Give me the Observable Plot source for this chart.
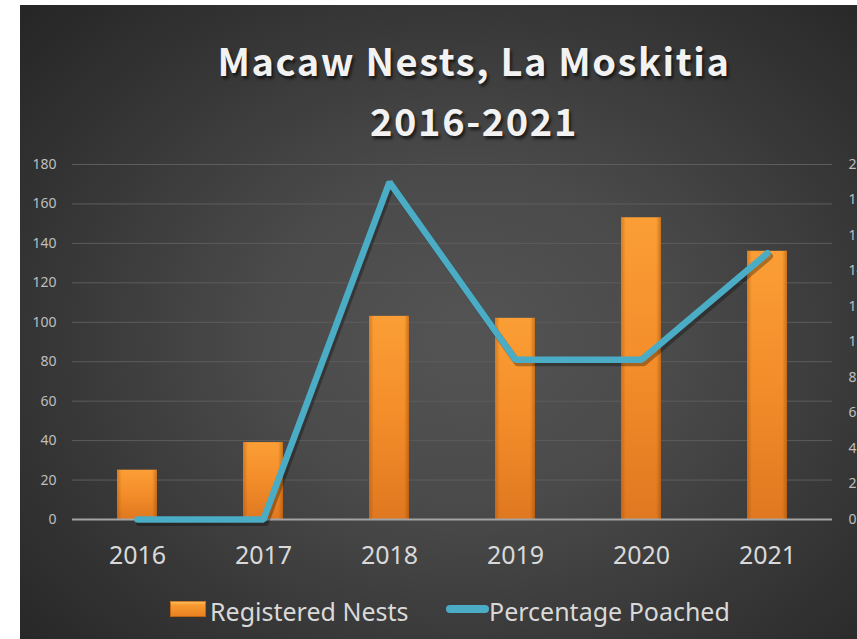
<!DOCTYPE html>
<html>
<head>
<meta charset="utf-8">
<script src="https://cdn.jsdelivr.net/npm/d3@7"></script>
<script src="https://cdn.jsdelivr.net/npm/@observablehq/plot@0.6"></script>
<style>
  html, body { margin: 0; padding: 0; background: #fff; overflow: hidden; width: 857px; height: 639px; }
  #card {
    position: absolute; left: 20px; top: 5px; width: 860px; height: 640px;
    background: radial-gradient(ellipse 70% 75% at 52% 52%, #545454 0%, #4a4a4a 35%, #363636 70%, #262626 100%);
    overflow: hidden;
    font-family: "Noto Sans", sans-serif;
  }
  .title {
    position: absolute; left: 0; width: 908px; text-align: center;
    font-family: "Noto Sans CJK JP", "Noto Sans", sans-serif; font-weight: 700;
    font-size: 38px; letter-spacing: 1.6px; color: #f2f2f2;
    text-shadow: 2px 3px 3px rgba(0,0,0,0.6);
    line-height: 1;
  }
  #chart { position: absolute; left: 0; top: 0; }
  .leg { position: absolute; top: 589px; font-size: 25px; color: #d9d9d9; line-height: 34px; }
  .sw-bar { position: absolute; width: 36px; height: 16px; top: 596px;
    background: linear-gradient(to bottom, #ffc46a 0%, #f89a30 25%, #e87f20 100%);
    box-shadow: inset 0 0 0 1px rgba(160,80,10,0.6); }
  .sw-line { position: absolute; width: 43px; height: 8px; top: 600px; border-radius: 4px; background: #4bacc6; }
</style>
</head>
<body>
<div id="card">
  <div class="title" id="t1" style="top: 36px;">Macaw Nests, La Moskitia</div>
  <div class="title" id="t2" style="top: 96px;">2016-2021</div>
  <div id="chart"></div>
  <div class="sw-bar" style="left: 150px;"></div>
  <div class="leg" style="left: 190px;">Registered Nests</div>
  <div class="sw-line" style="left: 426px;"></div>
  <div class="leg" style="left: 469px;">Percentage Poached</div>
</div>
<script>
const years = ["2016", "2017", "2018", "2019", "2020", "2021"];
const registeredNests = [25, 39, 103, 102, 153, 136];
const percentagePoached = [0, 0, 19, 9, 9, 15];
const leftTicks = [0, 20, 40, 60, 80, 100, 120, 140, 160, 180];
const rightTicks = [0, 2, 4, 6, 8, 10, 12, 14, 16, 18, 20];

const leftMax = 180, rightMax = 20;
const ratio = leftMax / rightMax; // secondary axis mapped onto primary
const data = years.map((y, i) => ({year: y, nests: registeredNests[i], pct: percentagePoached[i]}));

const inset = 43;
const svg = Plot.plot({
  width: 852,
  height: 575,
  marginLeft: 52,
  marginRight: 40,
  marginTop: 159,
  marginBottom: 61,
  style: {background: "transparent", fontFamily: "Noto Sans, sans-serif", overflow: "visible"},
  x: {domain: years, padding: 0},
  y: {domain: [0, leftMax]},
  marks: [
    Plot.ruleY(leftTicks, {stroke: "#5d5d5d", strokeWidth: 1}),
    Plot.barY(data, {x: "year", y: "nests", fill: "url(#barV)", insetLeft: inset, insetRight: inset}),
    Plot.barY(data, {x: "year", y: "nests", fill: "url(#barH)", insetLeft: inset, insetRight: inset}),
    Plot.tickY(data, {x: "year", y: "nests", stroke: "url(#barTop)", strokeWidth: 6, dy: 3, insetLeft: inset + 2, insetRight: inset + 2}),
    Plot.ruleY([0], {stroke: "#a3a3a3", strokeWidth: 2}),
    Plot.line(data, {x: "year", y: d => d.pct * ratio, stroke: "#000", strokeOpacity: 0.3, strokeWidth: 7, dx: 2, dy: 3}),
    Plot.line(data, {x: "year", y: d => d.pct * ratio, stroke: "#4bacc6", strokeWidth: 6.5, strokeLinejoin: "miter"}),
    Plot.axisY(leftTicks, {anchor: "left", tickSize: 0, tickPadding: 16, fontSize: 14, fill: "#bfbfbf", label: null}),
    Plot.axisY(rightTicks.map(t => t * ratio), {anchor: "right", tickSize: 0, tickPadding: 16, fontSize: 14, fill: "#bfbfbf", label: null, tickFormat: d => String(Math.round(d / ratio))}),
    Plot.axisX({anchor: "bottom", tickSize: 0, tickPadding: 27, fontSize: 25, fill: "#d9d9d9", label: null})
  ]
});
svg.insertAdjacentHTML("afterbegin", `
<defs>
  <linearGradient id="barV" x1="0" y1="0" x2="0" y2="1">
    <stop offset="0" stop-color="#fb9e35"/>
    <stop offset="0.5" stop-color="#f38d2a"/>
    <stop offset="1" stop-color="#df7820"/>
  </linearGradient>
  <linearGradient id="barH" x1="0" y1="0" x2="1" y2="0">
    <stop offset="0" stop-color="#8a4000" stop-opacity="0.35"/>
    <stop offset="0.12" stop-color="#8a4000" stop-opacity="0"/>
    <stop offset="0.88" stop-color="#8a4000" stop-opacity="0"/>
    <stop offset="1" stop-color="#8a4000" stop-opacity="0.45"/>
  </linearGradient>
  <linearGradient id="barTop" x1="0" y1="0" x2="1" y2="0">
    <stop offset="0" stop-color="#ffc666"/>
    <stop offset="0.5" stop-color="#ffd27a"/>
    <stop offset="1" stop-color="#ffc666"/>
  </linearGradient>
</defs>`);
document.getElementById("chart").appendChild(svg);
</script>
</body>
</html>
